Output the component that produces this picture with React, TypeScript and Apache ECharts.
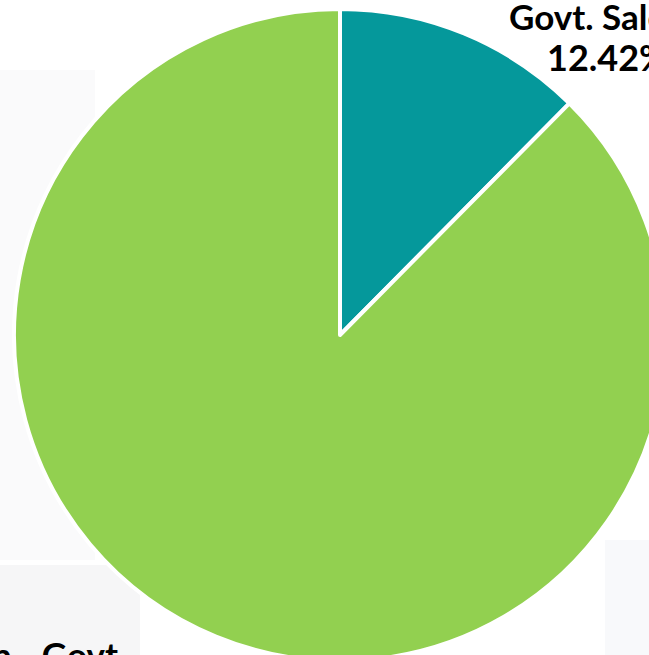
import React, { useEffect, useRef } from "react";
import * as echarts from "echarts";

const categories = ["Govt. Sales", "Nomination - Govt"];
const values = [12.42, 87.58];
const colors = ["#05989B", "#92D050"];

export default function App() {
  const ref = useRef<HTMLDivElement>(null);
  useEffect(() => {
    if (!ref.current) return;
    const chart = echarts.init(ref.current, null, { renderer: "svg" });
    const txt = { fontFamily: "Lato", fontWeight: "bold", fontSize: 35, lineHeight: 41, color: "#000000" };
    chart.setOption({
      animation: false,
      backgroundColor: "#ffffff",
      graphic: [
        { type: "rect", z: 0, shape: { x: 0, y: 70, width: 95, height: 490 }, style: { fill: "#fafafb" } },
        { type: "rect", z: 0, shape: { x: 0, y: 565, width: 140, height: 90 }, style: { fill: "#f6f6f7" } },
        { type: "rect", z: 0, shape: { x: 605, y: 540, width: 44, height: 115 }, style: { fill: "#f8f9fb" } },
      ],
      series: [
        {
          type: "pie",
          z: 2,
          center: [340, 335],
          radius: 326,
          startAngle: 90,
          clockwise: true,
          itemStyle: { borderColor: "#ffffff", borderWidth: 4 },
          label: {
            show: true,
            formatter: (p: any) => `{n|${p.name}}\n{p|${p.percent.toFixed(2)}%}`,
            width: 400,
            overflow: "none",
            ...txt,
            rich: {
              n: { ...txt },
              p: { ...txt, fontSize: 36, padding: [0, 0, 0, 38] },
            },
          },
          labelLine: { show: false },
          labelLayout: (params: any) => {
            if (params.dataIndex === 0) {
              return { x: 509, y: -4.5, align: "left", verticalAlign: "top" };
            }
            return { x: 118, y: 633, align: "right", verticalAlign: "top" };
          },
          data: categories.map((name, i) => ({
            name,
            value: values[i],
            itemStyle: { color: colors[i] },
          })),
        },
      ],
    });
    return () => chart.dispose();
  }, []);
  return (
    <div
      ref={ref}
      style={{ position: "absolute", left: 0, top: 0, width: 649, height: 655 }}
    />
  );
}
